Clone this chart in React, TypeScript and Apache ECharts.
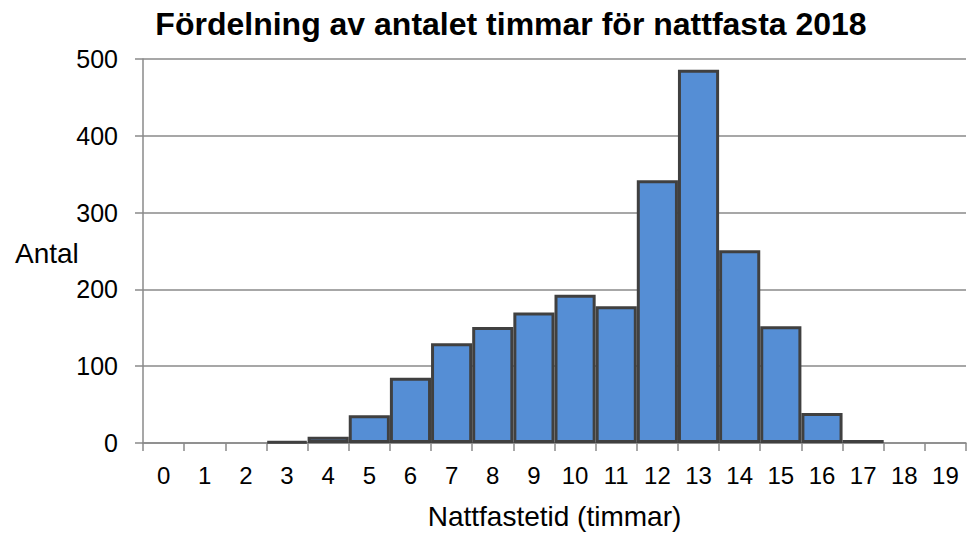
import React, { useEffect, useRef } from "react";
import * as echarts from "echarts";

const categories = ["0","1","2","3","4","5","6","7","8","9","10","11","12","13","14","15","16","17","18","19"];
const counts = [0, 0, 0, 2, 8, 36, 85, 130, 151, 170, 193, 178, 342, 486, 251, 152, 39, 4, 0, 0];
const yTicks = { min: 0, max: 500, interval: 100 };
const titleText = "Fördelning av antalet timmar för nattfasta 2018";
const xName = "Nattfastetid (timmar)";
const yName = "Antal";

export default function App() {
  const ref = useRef<HTMLDivElement>(null);
  useEffect(() => {
    if (!ref.current) return;
    const chart = echarts.init(ref.current, null, { renderer: "svg" });
    const font = "Liberation Sans, Arial, sans-serif";
    chart.setOption({
      animation: false,
      textStyle: { fontFamily: font },
      title: {
        text: titleText,
        left: 506,
        textAlign: "center",
        top: 3,
        textStyle: { fontSize: 32, fontWeight: "bold", color: "#000", fontFamily: font },
      },
      graphic: [
        {
          type: "text",
          left: 15,
          top: 239,
          style: { text: yName, fontSize: 28, fill: "#000", fontFamily: font },
        },
      ],
      grid: { left: 143, right: 7, top: 59, bottom: 88, containLabel: false },
      xAxis: {
        type: "category",
        data: categories,
        name: xName,
        nameLocation: "middle",
        nameGap: 59,
        nameTextStyle: { fontSize: 28, color: "#000", fontFamily: font },
        boundaryGap: true,
        axisLine: { show: true, lineStyle: { color: "#8a8a8a", width: 1.5 } },
        axisTick: { show: true, length: 8, alignWithLabel: false, lineStyle: { color: "#8a8a8a", width: 1.5 } },
        axisLabel: { fontSize: 24, color: "#000", margin: 20, interval: 0, fontFamily: font },
        splitLine: { show: false },
      },
      yAxis: {
        type: "value",
        min: yTicks.min,
        max: yTicks.max,
        interval: yTicks.interval,
        axisLine: { show: true, lineStyle: { color: "#8a8a8a", width: 1.5 } },
        axisTick: { show: true, length: 8, lineStyle: { color: "#8a8a8a", width: 1.5 } },
        axisLabel: { fontSize: 25, color: "#000", margin: 25, padding: [5, 0, 0, 0], fontFamily: font },
        splitLine: { show: true, lineStyle: { color: "#8a8a8a", width: 1.5 } },
      },
      series: [
        {
          type: "bar",
          data: counts.map((v) => (v === 0 ? null : v)),
          barCategoryGap: "0%",
          barGap: "0%",
          itemStyle: { color: "#558ED5", borderColor: "#404040", borderWidth: 3 },
        },
      ],
    });
    return () => chart.dispose();
  }, []);
  return (
    <div
      ref={ref}
      style={{ position: "absolute", left: 0, top: 0, width: 973, height: 535 }}
    />
  );
}
